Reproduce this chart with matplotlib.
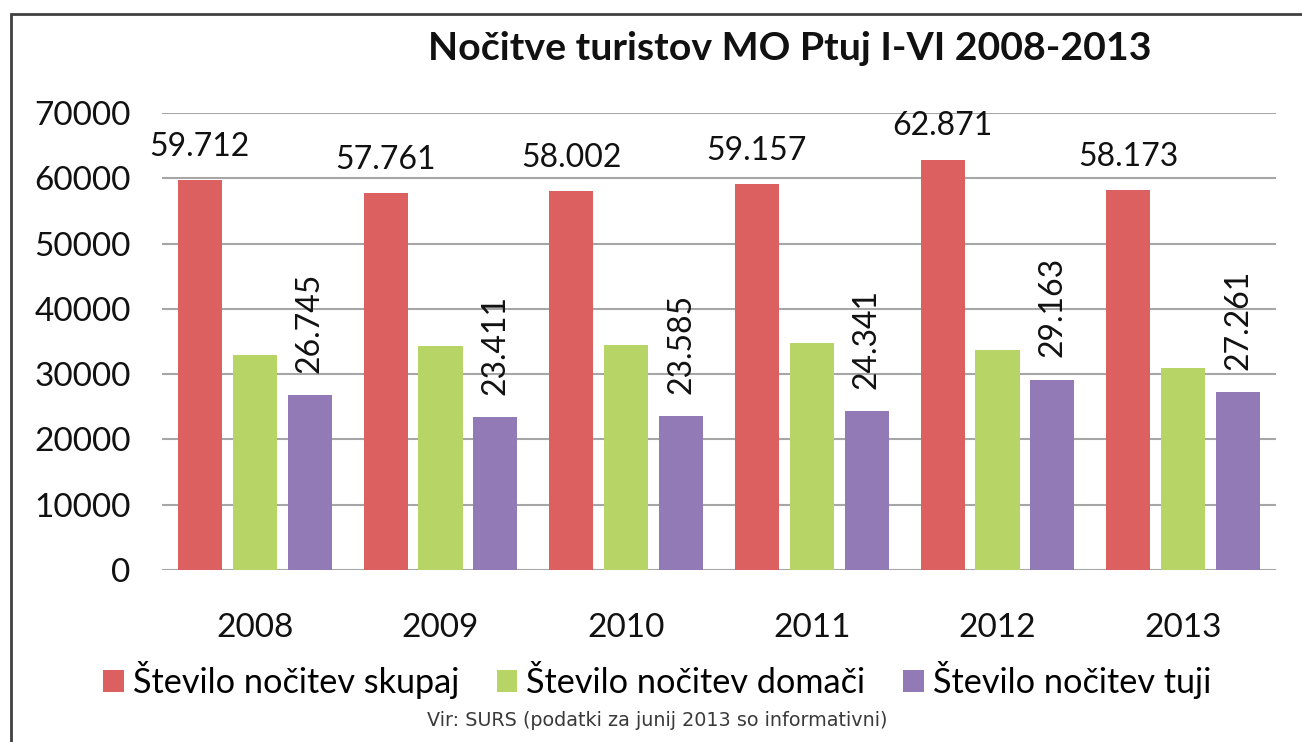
import matplotlib
matplotlib.use("Agg")
import matplotlib.pyplot as plt
from matplotlib.patches import Rectangle
import numpy as np

plt.rcParams['font.family'] = ['Lato', 'DejaVu Sans']

years = ['2008', '2009', '2010', '2011', '2012', '2013']
skupaj = [59712, 57761, 58002, 59157, 62871, 58173]
domaci = [32967, 34350, 34417, 34816, 33708, 30912]
tuji = [26745, 23411, 23585, 24341, 29163, 27261]
skupaj_labels = ['59.712', '57.761', '58.002', '59.157', '62.871', '58.173']
tuji_labels = ['26.745', '23.411', '23.585', '24.341', '29.163', '27.261']
series_names = ['Število nočitev skupaj', 'Število nočitev domači', 'Število nočitev tuji']

col_red = '#dd6060'
col_green = '#b6d566'
col_purple = '#917ab6'

fig = plt.figure(figsize=(13.02, 7.42), dpi=100)
ax = fig.add_axes([162/1302, 172/742, (1276-162)/1302, (570-113)/742])

x = np.arange(len(years))
w = 0.237
off = 0.296
b1 = ax.bar(x - off, skupaj, w, color=col_red, label=series_names[0], zorder=3)
b2 = ax.bar(x, domaci, w, color=col_green, label=series_names[1], zorder=3)
b3 = ax.bar(x + off, tuji, w, color=col_purple, label=series_names[2], zorder=3)

# value labels: totals on top, foreign ones rotated
for rect, lab in zip(b1, skupaj_labels):
    ax.annotate(lab, (rect.get_x() + rect.get_width()/2, rect.get_height()),
                xytext=(0, 13), textcoords='offset points', ha='center', va='bottom',
                fontsize=23, color='#111111')
for rect, lab in zip(b3, tuji_labels):
    ax.annotate(lab, (rect.get_x() + rect.get_width()/2, rect.get_height()),
                xytext=(0, 16), textcoords='offset points', ha='center', va='bottom',
                rotation=90, fontsize=23, color='#111111')

ax.set_xlim(-0.5, 5.5)
ax.set_ylim(0, 70000)
ax.set_yticks(range(0, 70001, 10000))
ax.set_yticklabels([str(v) for v in range(0, 70001, 10000)])
ax.set_xticks(x)
ax.set_xticklabels(years)
ax.yaxis.grid(True, color='#a6a6a6', linewidth=1.5, zorder=0)
ax.set_axisbelow(True)
for s in ax.spines.values():
    s.set_visible(False)
ax.tick_params(axis='y', length=0, pad=22.5, labelsize=24, labelcolor='#111111')
ax.tick_params(axis='x', length=0, pad=31, labelsize=24, labelcolor='#111111')

fig.legend(handles=[b1, b2, b3], labels=series_names, loc='center',
           bbox_to_anchor=(657/1302, 1 - 680/742), ncol=3, frameon=False,
           fontsize=24.7, handlelength=0.6, handleheight=0.6, handletextpad=0.26,
           columnspacing=1.1)

fig.text(790/1302, 1 - 48/742, 'Nočitve turistov MO Ptuj I-VI 2008-2013',
         ha='center', va='center', fontsize=28.3, fontweight='bold', color='#111111')
fig.text(657/1302, 1 - 721/742, 'Vir: SURS (podatki za junij 2013 so informativni)',
         ha='center', va='center', fontsize=13.8, color='#3a3a3a', family='DejaVu Sans')

fig.patches.append(Rectangle((11/1302, -0.05), 1.1, 1 - 14/742 + 0.05,
                             transform=fig.transFigure, fill=False,
                             edgecolor='#404040', linewidth=2))

fig.savefig('out.png', dpi=100)
